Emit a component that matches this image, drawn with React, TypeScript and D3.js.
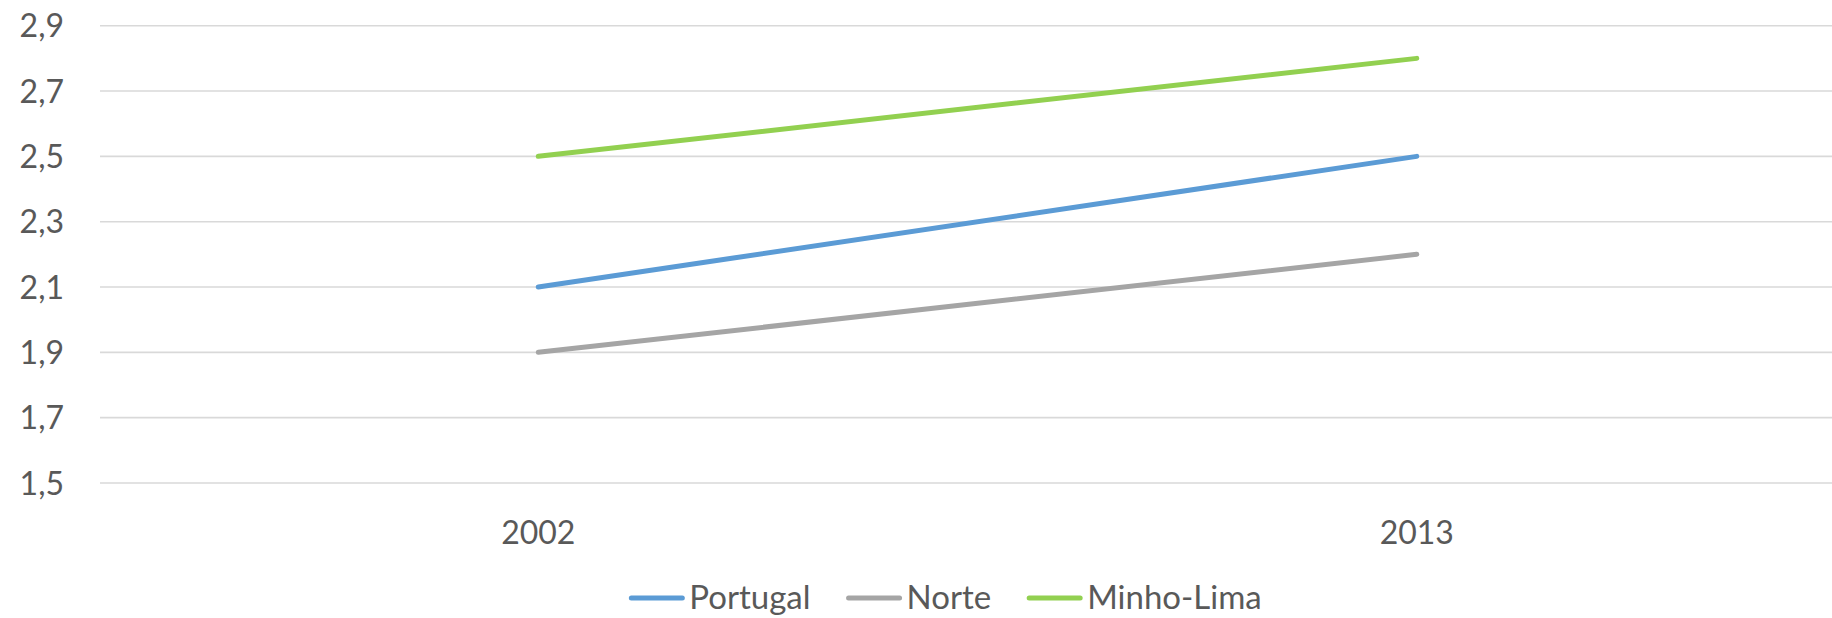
import React, { useEffect, useRef } from 'react';
import * as d3 from 'd3';

const years = ['2002', '2013'];
const seriesNames = ['Portugal', 'Norte', 'Minho-Lima'];
const portugal = [2.1, 2.5];
const norte = [1.9, 2.2];
const minhoLima = [2.5, 2.8];
const yTicks = [1.5, 1.7, 1.9, 2.1, 2.3, 2.5, 2.7, 2.9];
const colors = ['#5B9BD5', '#A5A5A5', '#92D050'];

const width = 1832;
const height = 618;

const App = () => {
  const svgRef = useRef<SVGSVGElement>(null);

  useEffect(() => {
    const svg = d3.select(svgRef.current);
    svg.selectAll('*').remove();

    const font = 'Lato, "Open Sans", sans-serif';
    const textColor = '#595959';
    const fontSize = 32;

    // plot area runs past the right edge (chart is cropped there)
    const plotLeft = 99;
    const plotRight = 1856;
    const x = d3.scalePoint().domain(years).range([plotLeft, plotRight]).padding(0.5);
    const y = d3.scaleLinear().domain([1.5, 2.9]).range([483, 25.7]);

    const locale = d3.formatLocale({ decimal: ',', thousands: '.', grouping: [3], currency: ['', '€'] });
    const fmt = locale.format('.1f');

    // gridlines
    svg.append('g')
      .selectAll('line')
      .data(yTicks)
      .join('line')
      .attr('x1', plotLeft + 1)
      .attr('x2', plotRight)
      .attr('y1', d => y(d))
      .attr('y2', d => y(d))
      .attr('stroke', '#D9D9D9')
      .attr('stroke-width', 1.6);

    // y labels
    svg.append('g')
      .selectAll('text')
      .data(yTicks)
      .join('text')
      .attr('x', 64)
      .attr('y', d => y(d) + 11.5)
      .attr('text-anchor', 'end')
      .text(d => fmt(d))
      .style('font-family', font)
      .style('font-size', `${fontSize}px`)
      .style('fill', textColor);

    // x labels
    svg.append('g')
      .selectAll('text')
      .data(years)
      .join('text')
      .attr('x', d => x(d) as number)
      .attr('y', 544)
      .attr('text-anchor', 'middle')
      .text(d => d)
      .style('font-family', font)
      .style('font-size', `${fontSize}px`)
      .style('fill', textColor);

    const series = [portugal, norte, minhoLima];
    const line = d3.line<number>()
      .x((_, i) => x(years[i]) as number)
      .y(d => y(d));

    svg.append('g')
      .selectAll('path')
      .data(series)
      .join('path')
      .attr('d', d => line(d))
      .attr('fill', 'none')
      .attr('stroke', (_, i) => colors[i])
      .attr('stroke-width', 5)
      .attr('stroke-linecap', 'round')
      .attr('stroke-linejoin', 'round');

    // legend, centred on the full (uncropped) chart width
    const legendG = svg.append('g');
    const swatch = 55;
    const gapText = 5;
    const gapItem = 36;
    const legendY = 598;
    let cursor = 0;
    seriesNames.forEach((name, i) => {
      legendG.append('line')
        .attr('x1', cursor + 2)
        .attr('x2', cursor + swatch - 2)
        .attr('y1', legendY)
        .attr('y2', legendY)
        .attr('stroke', colors[i])
        .attr('stroke-width', 5)
        .attr('stroke-linecap', 'round');
      const t = legendG.append('text')
        .attr('x', cursor + swatch + gapText)
        .attr('y', 609)
        .text(name)
        .style('font-family', font)
        .style('font-size', `${fontSize + 1}px`)
        .style('fill', textColor);
      const w = (t.node() as SVGTextElement).getComputedTextLength();
      cursor += swatch + gapText + w + gapItem;
    });
    const total = cursor - gapItem;
    const legendCenter = 945.5;
    legendG.attr('transform', `translate(${legendCenter - total / 2},0)`);
  }, []);

  return (
    <svg
      ref={svgRef}
      width={width}
      height={height}
      style={{ position: 'absolute', left: 0, top: 0, display: 'block', background: '#fff' }}
    />
  );
};

export default App;
